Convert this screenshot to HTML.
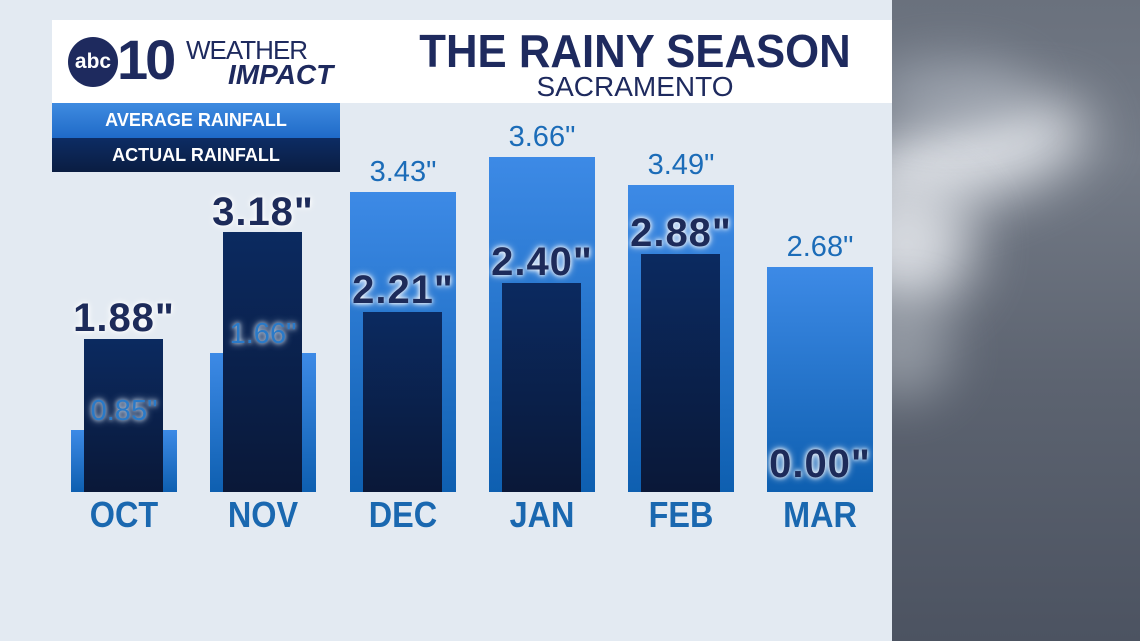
<!DOCTYPE html>
<html><head><style>
body{margin:0;width:1140px;height:641px;overflow:hidden;background:#e3eaf2;font-family:"Liberation Sans",sans-serif;position:relative}
div{position:absolute}
.avg{background:linear-gradient(#3d8ae6,#0e5fb0);width:106px}
.act{background:linear-gradient(#0b2a60,#0a1838);width:79px}
.lblA{font-weight:bold;color:#1d2b5a;font-size:40px;text-align:center;width:200px;text-shadow:0 0 4px #fff,0 0 8px #fff;letter-spacing:1px}
.lblV{font-weight:normal;color:#1b6cb8;font-size:29px;text-align:center;width:200px;text-shadow:0 0 3px #e3eaf2,0 0 6px #e3eaf2}
.in{color:#2a7ac8;text-shadow:0 0 4px #c8d8ea,0 0 8px #c8d8ea}
.mon{font-weight:bold;color:#1a68b0;font-size:36px;text-align:center;width:160px;top:494px;transform:scaleX(0.9)}
</style></head><body>
<div style="left:52px;top:20px;width:840px;height:83px;background:#fff"></div>
<div style="left:68px;top:37px;width:50px;height:50px;border-radius:50%;background:#1e2a5e;color:#fff;font-weight:bold;font-size:21px;line-height:50px;text-align:center">abc</div>
<div style="left:117px;top:30px;font-size:56px;font-weight:bold;color:#1e2a5e;letter-spacing:-3px;line-height:60px">10</div>
<div style="left:186px;top:36px;font-size:26px;color:#1e2a5e;letter-spacing:-1px;line-height:28px">WEATHER</div>
<div style="left:228px;top:60px;font-size:28px;font-weight:bold;font-style:italic;color:#1e2a5e;line-height:30px">IMPACT</div>
<div style="left:400px;top:26px;width:470px;text-align:center;font-size:46px;font-weight:bold;color:#1e2a5e;line-height:50px;transform:scaleX(0.95)">THE RAINY SEASON</div>
<div style="left:400px;top:72px;width:470px;text-align:center;font-size:28px;color:#1e2a5e;line-height:30px">SACRAMENTO</div>
<div style="left:52px;top:103px;width:288px;height:35px;background:linear-gradient(#3f8be0,#1f6ac8);color:#fff;font-weight:bold;font-size:18px;line-height:35px;text-align:center">AVERAGE RAINFALL</div>
<div style="left:52px;top:138px;width:288px;height:34px;background:linear-gradient(#0d2c64,#0a1d42);color:#fff;font-weight:bold;font-size:18px;line-height:34px;text-align:center">ACTUAL RAINFALL</div>

<div class="avg" style="left:71px;top:430px;height:62px"></div>
<div class="act" style="left:84px;top:339px;height:153px"></div>
<div class="avg" style="left:210px;top:353px;height:139px"></div>
<div class="act" style="left:223px;top:232px;height:260px"></div>
<div class="avg" style="left:350px;top:192px;height:300px"></div>
<div class="act" style="left:363px;top:312px;height:180px"></div>
<div class="avg" style="left:489px;top:157px;height:335px"></div>
<div class="act" style="left:502px;top:283px;height:209px"></div>
<div class="avg" style="left:628px;top:185px;height:307px"></div>
<div class="act" style="left:641px;top:254px;height:238px"></div>
<div class="avg" style="left:767px;top:267px;height:225px"></div>

<div class="lblA" style="left:24px;top:296px">1.88"</div>
<div class="lblV in" style="left:24px;top:395px">0.85"</div>
<div class="lblA" style="left:163px;top:190px">3.18"</div>
<div class="lblV in" style="left:163px;top:318px">1.66"</div>
<div class="lblV" style="left:303px;top:156px">3.43"</div>
<div class="lblA" style="left:303px;top:268px">2.21"</div>
<div class="lblV" style="left:442px;top:121px">3.66"</div>
<div class="lblA" style="left:442px;top:240px">2.40"</div>
<div class="lblV" style="left:581px;top:149px">3.49"</div>
<div class="lblA" style="left:581px;top:211px">2.88"</div>
<div class="lblV" style="left:720px;top:231px">2.68"</div>
<div class="lblA" style="left:720px;top:442px">0.00"</div>

<div class="mon" style="left:44px">OCT</div>
<div class="mon" style="left:183px">NOV</div>
<div class="mon" style="left:323px">DEC</div>
<div class="mon" style="left:462px">JAN</div>
<div class="mon" style="left:601px">FEB</div>
<div class="mon" style="left:740px">MAR</div>

<div style="left:892px;top:0;width:248px;height:641px;overflow:hidden;background:linear-gradient(#6a717d,#737a86 25%,#5c6370 60%,#4c5361)">
<div style="left:-40px;top:110px;width:240px;height:90px;border-radius:50%;background:#e6e9ee;transform:rotate(-15deg);filter:blur(28px);opacity:0.9"></div>
<div style="left:-50px;top:180px;width:130px;height:130px;border-radius:50%;background:#e2e5ea;filter:blur(28px);opacity:0.9"></div>
<div style="left:-20px;top:60px;width:160px;height:60px;border-radius:50%;background:#a6adb8;filter:blur(25px);opacity:0.7"></div>
<div style="left:-40px;top:300px;width:100px;height:100px;border-radius:50%;background:#b0b6be;filter:blur(25px);opacity:0.6"></div>
</div>
</body></html>
